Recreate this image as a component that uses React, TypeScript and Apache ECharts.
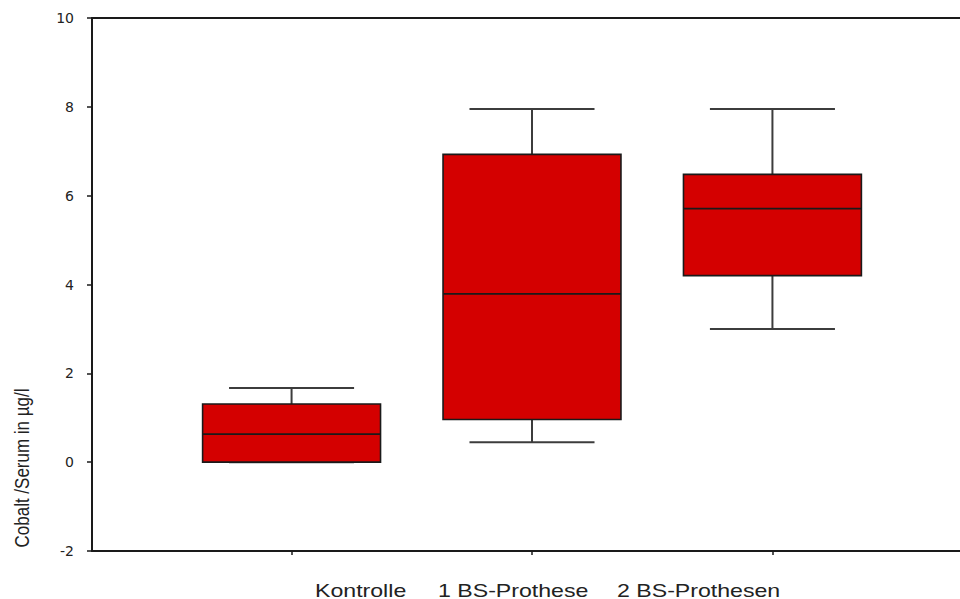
import React, { useEffect, useRef } from "react";
import * as echarts from "echarts";

// Groups and their five-number summaries (µg/l)
const categories = ["Kontrolle", "1 BS-Prothese", "2 BS-Prothesen"];
const xPositions = [1, 2, 3];
const lowerWhisker = [0, 0.45, 3.0];
const q1 = [0, 0.96, 4.2];
const median = [0.63, 3.79, 5.71];
const q3 = [1.31, 6.93, 6.48];
const upperWhisker = [1.67, 7.95, 7.95];

const yTicks = { min: -2, max: 10, interval: 2 };
const yTitle = "Cobalt /Serum in µg/l";

const X_RANGE = { min: 0.17, max: 3.83 };
const BOX_WIDTH = 0.74;
const CAP_WIDTH = 0.52;
const BOX_FILL = "#d40000";
const INK = "#1a1a1a";
const WHISKER = "#3c3c3c";

export default function App() {
  const ref = useRef<HTMLDivElement>(null);

  useEffect(() => {
    document.body.style.margin = "0";
    const chart = echarts.init(ref.current!, null, { renderer: "svg" });

    const boxData = categories.map((_, i) => [
      xPositions[i],
      lowerWhisker[i],
      q1[i],
      median[i],
      q3[i],
      upperWhisker[i],
    ]);

    const renderBox = (params: any, api: any) => {
      const x = api.value(0);
      const pLow = api.coord([x, api.value(1)]);
      const pQ1 = api.coord([x, api.value(2)]);
      const pMed = api.coord([x, api.value(3)]);
      const pQ3 = api.coord([x, api.value(4)]);
      const pHigh = api.coord([x, api.value(5)]);
      const cx = pMed[0];
      const halfBox = api.size([BOX_WIDTH, 0])[0] / 2;
      const halfCap = api.size([CAP_WIDTH, 0])[0] / 2;
      const whiskerStyle = { stroke: WHISKER, lineWidth: 2 };
      return {
        type: "group",
        children: [
          { type: "line", shape: { x1: cx, y1: pHigh[1], x2: cx, y2: pQ3[1] }, style: whiskerStyle },
          { type: "line", shape: { x1: cx - halfCap, y1: pHigh[1], x2: cx + halfCap, y2: pHigh[1] }, style: whiskerStyle },
          { type: "line", shape: { x1: cx, y1: pLow[1], x2: cx, y2: pQ1[1] }, style: whiskerStyle },
          { type: "line", shape: { x1: cx - halfCap, y1: pLow[1], x2: cx + halfCap, y2: pLow[1] }, style: whiskerStyle },
          {
            type: "rect",
            shape: { x: cx - halfBox, y: pQ3[1], width: halfBox * 2, height: pQ1[1] - pQ3[1] },
            style: { fill: BOX_FILL, stroke: INK, lineWidth: 1.6 },
          },
          {
            type: "line",
            shape: { x1: cx - halfBox, y1: pMed[1], x2: cx + halfBox, y2: pMed[1] },
            style: { stroke: INK, lineWidth: 1.8 },
          },
        ],
      };
    };

    const labelLefts = [315, 438, 617];

    chart.setOption({
      animation: false,
      backgroundColor: "#ffffff",
      grid: {
        left: 92,
        top: 18,
        width: 880,
        height: 533,
        outerBoundsMode: "none",
        show: false,
      },
      xAxis: [
        {
          type: "value",
          position: "bottom",
          min: X_RANGE.min,
          max: X_RANGE.max,
          axisLine: { show: true, onZero: false, lineStyle: { color: INK, width: 2 } },
          axisTick: { show: true, customValues: xPositions, length: 4, lineStyle: { color: INK, width: 1.5 } },
          axisLabel: { show: false },
          splitLine: { show: false },
        },
        {
          // frame line along the top of the plot
          type: "value",
          position: "top",
          min: X_RANGE.min,
          max: X_RANGE.max,
          axisLine: { show: true, onZero: false, lineStyle: { color: INK, width: 2 } },
          axisTick: { show: false },
          axisLabel: { show: false },
          splitLine: { show: false },
        },
      ],
      yAxis: {
        type: "value",
        min: yTicks.min,
        max: yTicks.max,
        interval: yTicks.interval,
        axisLine: { show: true, onZero: false, lineStyle: { color: INK, width: 2 } },
        axisTick: { show: true, length: 5, lineStyle: { color: INK, width: 1.5 } },
        axisLabel: {
          margin: 18,
          color: "#222",
          fontSize: 14,
          fontFamily: "DejaVu Sans",
        },
        splitLine: { show: false },
      },
      graphic: [
        {
          type: "text",
          x: 22,
          y: 468,
          rotation: Math.PI / 2,
          scaleY: 1.2,
          style: {
            text: yTitle,
            fill: "#222",
            font: '17px "Liberation Sans", Arial, sans-serif',
            textAlign: "center",
            textVerticalAlign: "middle",
          },
        },
        ...categories.map((c, i) => ({
          type: "text",
          x: labelLefts[i],
          y: 590,
          scaleX: 1.25,
          style: {
            text: c,
            fill: "#222",
            font: '18.5px "Liberation Sans", Arial, sans-serif',
            textAlign: "left",
            textVerticalAlign: "middle",
          },
        })),
      ],
      series: [
        {
          type: "custom",
          renderItem: renderBox,
          data: boxData,
          xAxisIndex: 0,
          encode: { x: 0, y: [1, 2, 3, 4, 5] },
          clip: false,
        },
      ],
    });

    return () => chart.dispose();
  }, []);

  return <div ref={ref} style={{ width: 960, height: 599 }} />;
}
